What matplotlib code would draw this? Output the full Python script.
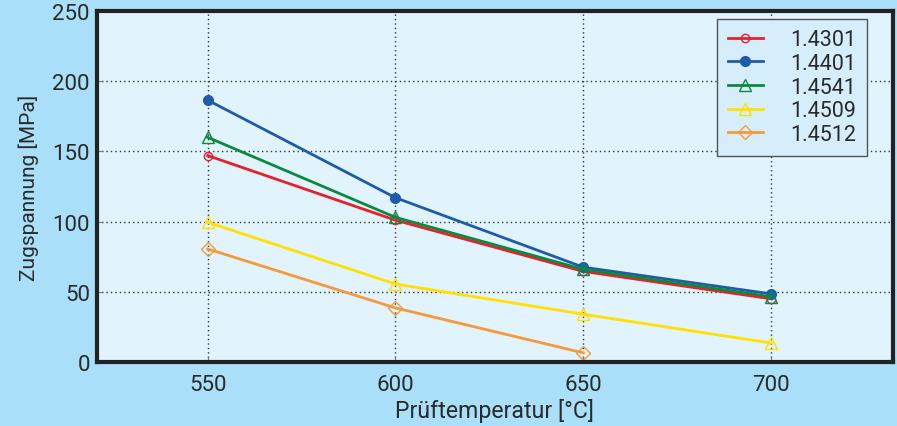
import matplotlib.pyplot as plt
import numpy as np

""" Zugspannung vs. Pruftemperatur """

temps = [550, 600, 650, 700]
s_14301 = [147, 101, 64.5, 45]
s_14401 = [186.5, 117, 67.5, 48.5]
s_14541 = [160, 103, 66, 46.5]
s_14509 = [99.5, 55.5, 34, 13.5]
temps_14512 = [550, 600, 650]
s_14512 = [80.5, 38.5, 6.5]

plt.rcParams['font.family'] = ['Roboto', 'DejaVu Sans']

fig = plt.figure(figsize=(8.97, 4.27), dpi=100, facecolor='#a9dff8')
ax = fig.add_axes([0.108, 0.150, 0.8875, 0.822], facecolor='#e1f3fc')

ax.plot(temps, s_14301, '-o', color='#e8202a', mfc='none', linewidth=2, markersize=6, label="1.4301")
ax.plot(temps, s_14401, '-o', color='#1f5bab', linewidth=2, markersize=7, label="1.4401")
ax.plot(temps, s_14541, '-^', color='#0b8a3e', mfc='none', linewidth=2, markersize=8, label="1.4541")
ax.plot(temps, s_14509, '-^', color='#ffe000', mfc='none', linewidth=2, markersize=8, label="1.4509")
ax.plot(temps_14512, s_14512, '-D', color='#f7993a', mfc='none', linewidth=2, markersize=7, label="1.4512")

ax.set_xlim(520.5, 732.5)
ax.set_ylim(0, 250)
ax.set_xticks(temps)
ax.set_yticks([0, 50, 100, 150, 200, 250])
ax.tick_params(axis='both', direction='in', length=4, color='#777777', labelsize=16, labelcolor='#2a2a2a')
ax.tick_params(axis='x', pad=9)
ax.tick_params(axis='y', pad=5)
ax.grid(True, color='#333333', linestyle=(0, (1, 2.2)), linewidth=1.0)
for s in ax.spines.values():
    s.set_linewidth(3)
    s.set_color('#222222')

ax.set_xlabel("Prüftemperatur [°C]", fontsize=16.7, color='#2a2a2a', labelpad=2)
ax.set_ylabel("Zugspannung [MPa]", fontsize=15, color='#2a2a2a', labelpad=10)

leg = ax.legend(loc='upper right', bbox_to_anchor=(0.968, 0.978), fontsize=15.5,
                facecolor='#d6eefb', edgecolor='#555555', framealpha=1, fancybox=False,
                handlelength=1.6, labelspacing=0.12, borderpad=0.5, handletextpad=1.3,
                borderaxespad=0)
leg.get_frame().set_linewidth(1)
for t in leg.get_texts():
    t.set_color('#2a2a2a')

fig.savefig("out.png", dpi=100, facecolor=fig.get_facecolor())
